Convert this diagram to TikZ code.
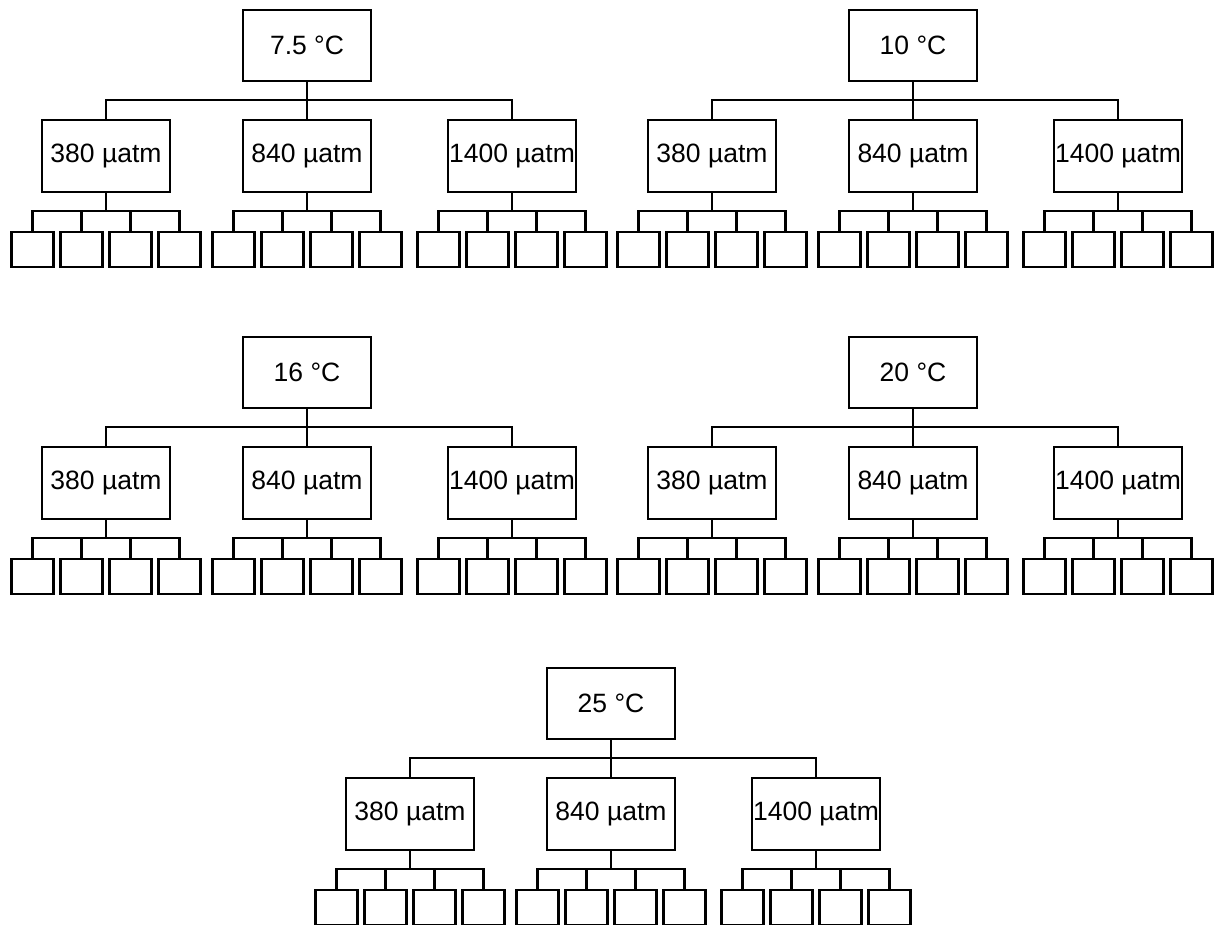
\documentclass[tikz,border=0pt]{standalone}
\usepackage{fontspec}
\setmainfont{Liberation Sans}
\usetikzlibrary{positioning}

\tikzset{
  tempbox/.style={draw, line width=2.2pt, minimum width=128pt, minimum height=71pt, inner sep=0pt, font=\fontsize{26.5}{30}\selectfont},
  co2box/.style={draw, line width=2.2pt, minimum width=128pt, minimum height=72pt, inner sep=0pt, font=\fontsize{26.5}{30}\selectfont},
  tankbox/.style={draw, line width=2.2pt, minimum width=42pt, minimum height=35pt, inner sep=0pt},
  link/.style={line width=2.2pt}
}

\NewDocumentCommand{\temptree}{mmmm}{%
\begin{scope}[shift={(#2,#3)}]%
\node[tempbox] (#1) at (0,36.5) {#4};
\foreach \p/\dx in {380/-201,840/0,1400/205} {
  \node[co2box] (#1p\p) at (\dx,147) {\p~µatm};
  \draw[link] (#1.south) -- ++(0,18) -| (#1p\p.north);
  \foreach \l/\lx in {1/-73.5,2/-24.5,3/24.5,4/73.5} {
    \node[tankbox] (#1p\p-\l) at (\dx+\lx,240.5) {};
    \draw[link] (#1p\p.south) -- ++(0,18) -| (#1p\p-\l.north);
  }
}
\end{scope}%
}

\begin{document}
\begin{tikzpicture}[x=1pt, y=-1pt]
        \useasboundingbox (0,0) rectangle (1215,924);

        % top row
        \temptree{ta}{307}{9}{7.5 °C}
        \temptree{tb}{913}{9}{10 °C}

        % middle row
        \temptree{tc}{307}{336}{16 °C}
        \temptree{td}{913}{336}{20 °C}

        % bottom row
        \temptree{te}{611}{667}{25 °C}
\end{tikzpicture}
\end{document}
